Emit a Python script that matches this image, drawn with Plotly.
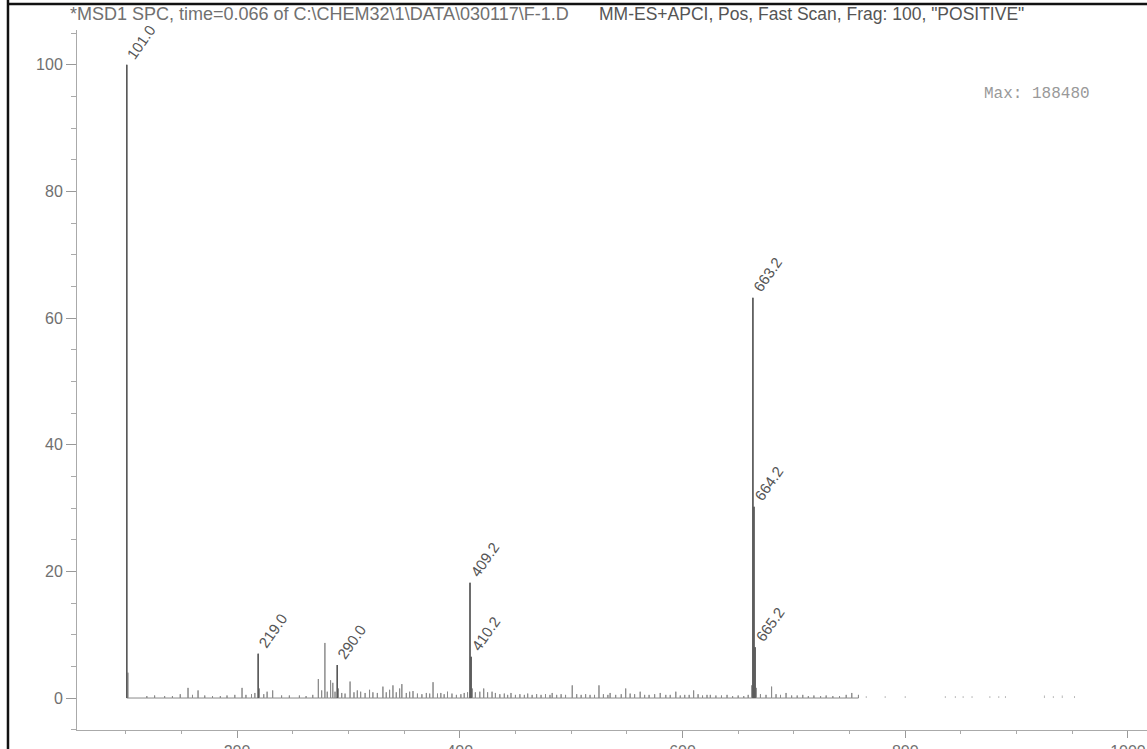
import numpy as np
import plotly.graph_objects as go

# ---------------- data ----------------
label_mz = [101.0, 219.0, 290.0, 409.2, 410.2, 663.2, 664.2, 665.2]
label_int = [100.0, 7.0, 5.2, 18.2, 6.5, 63.2, 30.2, 8.0]

# unlabelled peaks (visual estimates)
minor_mz = [102.0, 119, 126, 135, 142, 149, 156, 160, 165, 171, 178, 185, 191, 198, 204.5, 208, 213, 216,
            220, 224, 227, 232, 240, 247, 256, 262, 268, 273, 276, 278.9, 281, 284, 286, 288, 291, 294, 297,
            301.5, 305, 308, 311, 315, 319, 322, 326, 331, 334, 337, 340, 343, 346, 348, 352, 355, 358,
            362, 366, 370, 373, 376, 380, 383, 386, 389, 393, 397, 401, 404, 407, 411.2, 414, 418, 421.5,
            425, 429, 432, 436, 440, 443, 446, 450, 454, 458, 461, 465, 469, 473, 477, 481, 483, 487, 491,
            495, 501, 505, 509, 513, 517, 521, 525, 529, 533, 535, 540, 545, 549, 553, 557, 562, 566, 570,
            575, 580, 585, 589, 594, 598, 602, 606, 610, 614, 618, 622, 625, 630, 635, 640, 645, 650, 655,
            659, 662.2, 666.2, 670, 675, 680, 684, 688, 693, 698, 703, 708, 713, 718, 724, 729, 735, 741,
            747, 752, 758]
minor_int = [4.0, 0.3, 0.4, 0.3, 0.3, 0.6, 1.6, 0.5, 1.2, 0.4, 0.3, 0.3, 0.4, 0.5, 1.6, 0.5, 0.6, 0.8,
             1.5, 0.6, 1.0, 1.2, 0.4, 0.4, 0.4, 0.3, 0.5, 3.0, 1.2, 8.7, 1.0, 2.8, 2.4, 1.0, 1.5, 0.8, 0.7,
             2.6, 0.9, 1.2, 1.0, 0.8, 1.3, 0.9, 0.8, 1.8, 0.9, 1.3, 2.0, 0.9, 1.5, 2.2, 0.8, 1.0, 1.1,
             0.7, 0.6, 0.8, 0.7, 2.5, 0.7, 0.8, 0.6, 1.0, 0.7, 0.5, 0.6, 0.8, 0.9, 1.5, 0.9, 1.0, 1.5,
             0.9, 1.0, 0.8, 0.6, 0.7, 0.5, 0.8, 0.5, 0.6, 0.5, 0.7, 0.5, 0.6, 0.5, 0.6, 0.5, 0.8, 0.5, 0.6,
             0.5, 2.0, 0.6, 0.5, 0.6, 0.5, 0.5, 2.0, 0.6, 0.5, 0.8, 0.5, 0.6, 1.5, 0.7, 0.6, 1.0, 0.5, 0.5,
             0.6, 0.8, 0.5, 0.5, 1.0, 0.4, 0.5, 0.5, 1.2, 0.6, 0.4, 0.5, 0.5, 0.4, 0.4, 0.5, 0.3, 0.4, 0.3,
             0.5, 2.0, 1.6, 0.6, 0.5, 1.8, 0.6, 0.5, 0.8, 0.4, 0.4, 0.5, 0.3, 0.4, 0.3, 0.4, 0.3, 0.3,
             0.5, 0.8, 0.5]

tail_mz = [765, 782, 800, 836, 845, 852, 860, 876, 884, 890, 925, 933, 941, 952]
tail_int = [0.3, 0.3, 0.3, 0.3, 0.3, 0.3, 0.3, 0.3, 0.3, 0.3, 0.4, 0.3, 0.4, 0.3]

title_left = "*MSD1 SPC, time=0.066 of C:\\CHEM32\\1\\DATA\\030117\\F-1.D"
title_right = "MM-ES+APCI, Pos, Fast Scan, Frag: 100, \"POSITIVE\""
max_text = "Max: 188480"

x_ticks = [200, 400, 600, 800, 1000]
y_ticks = [0, 20, 40, 60, 80, 100]

# ---------------- build stick paths ----------------
all_mz = np.array(label_mz + minor_mz, dtype=float)
all_int = np.array(label_int + minor_int, dtype=float)
order = np.argsort(all_mz)
mz_s, int_s = all_mz[order], all_int[order]

px = np.repeat(mz_s, 3)
py = np.column_stack([np.zeros_like(int_s), int_s, np.zeros_like(int_s)]).ravel()

lx, ly = [], []
for m, h in zip(label_mz, label_int):
    lx += [m, m, None]
    ly += [0, h, None]

tx, ty = [], []
for m, h in zip(tail_mz, tail_int):
    tx += [m, m, None]
    ty += [0, h, None]

fig = go.Figure()
fig.add_trace(go.Scatter(x=px, y=py, mode="lines", line=dict(color="#8a8a8a", width=1),
                         hoverinfo="skip", showlegend=False))
fig.add_trace(go.Scatter(x=tx, y=ty, mode="lines", line=dict(color="#b8b8b8", width=1),
                         hoverinfo="skip", showlegend=False))
fig.add_trace(go.Scatter(x=lx, y=ly, mode="lines", line=dict(color="#555555", width=1.4),
                         hoverinfo="skip", showlegend=False))

for m, h in zip(label_mz, label_int):
    fig.add_annotation(x=m, y=h, text=f"{m:.1f}", textangle=-55, showarrow=False,
                       xanchor="left", yanchor="bottom", xshift=-6,
                       font=dict(family="Liberation Sans", size=15, color="#555555"))

fig.add_annotation(x=-0.0084, y=1.0229, xref="paper", yref="paper", text=title_left,
                   showarrow=False, xanchor="left", yanchor="middle",
                   font=dict(family="Liberation Sans", size=18, color="#707070"))
fig.add_annotation(x=0.486, y=1.0229, xref="paper", yref="paper", text=title_right,
                   showarrow=False, xanchor="left", yanchor="middle",
                   font=dict(family="Liberation Sans", size=17.5, color="#555555"))
fig.add_annotation(x=0.846, y=0.9086, xref="paper", yref="paper", text=max_text,
                   showarrow=False, xanchor="left", yanchor="middle",
                   font=dict(family="Liberation Mono", size=16, color="#999999"))

# scan frame (left and top borders)
fig.add_shape(type="line", xref="paper", yref="paper", x0=-0.0645, x1=-0.0645, y0=-0.05, y1=1.045,
              line=dict(color="#111111", width=2.5))
fig.add_shape(type="line", xref="paper", yref="paper", x0=-0.0645, x1=1.0, y0=1.0371, y1=1.0371,
              line=dict(color="#111111", width=2.5))

axis_common = dict(showgrid=False, zeroline=False, showline=True, linecolor="#aaaaaa", linewidth=1,
                   ticks="outside", tickcolor="#999999", tickwidth=1, automargin=False,
                   tickfont=dict(family="Liberation Sans", size=16, color="#707070"))

fig.update_xaxes(range=[56.3, 1017.1], tickvals=x_ticks, ticklen=7,
                 minor=dict(dtick=50, tick0=0, ticks="outside", ticklen=3, tickcolor="#aaaaaa"),
                 **axis_common)
fig.update_yaxes(range=[-5.05, 105.5], tickvals=y_ticks, ticklen=10,
                 minor=dict(dtick=5, tick0=0, ticks="outside", ticklen=5, tickcolor="#aaaaaa"),
                 **axis_common)

fig.update_layout(width=1147, height=749, margin=dict(l=77, r=0, t=30, b=19, autoexpand=False),
                  plot_bgcolor="white", paper_bgcolor="white")

fig.write_html("out.html", config={"displayModeBar": False},
               post_script="document.body.style.margin='0';document.body.style.overflow='hidden';")
